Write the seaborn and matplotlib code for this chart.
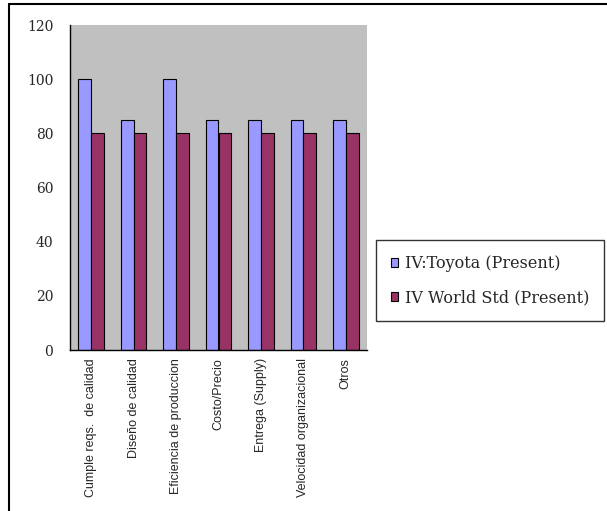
import matplotlib
matplotlib.use("Agg")
import matplotlib.pyplot as plt
from matplotlib.lines import Line2D
from matplotlib.patches import Patch
import numpy as np
import pandas as pd
import seaborn as sns

categories = [
    "Cumple reqs.  de calidad",
    "Diseño de calidad",
    "Eficiencia de produccion",
    "Costo/Precio",
    "Entrega (Supply)",
    "Velocidad organizacional",
    "Otros",
]
series_names = ["IV:Toyota (Present)", "IV World Std (Present)"]
toyota = [100, 85, 100, 85, 85, 85, 85]
world_std = [80, 80, 80, 80, 80, 80, 80]
y_ticks = [0, 20, 40, 60, 80, 100, 120]

colors = ["#9999FF", "#993366"]

df = pd.DataFrame({
    "categoria": categories * 2,
    "serie": [series_names[0]] * len(categories) + [series_names[1]] * len(categories),
    "valor": toyota + world_std,
})

sns.set_theme(style="white")
plt.rcParams["font.family"] = ["DejaVu Serif"]

W, H = 607, 511
fig = plt.figure(figsize=(W / 100, H / 100), dpi=100)
left, right, top, bottom = 70, 367, 25, 350
ax = fig.add_axes([left / W, 1 - bottom / H, (right - left) / W, (bottom - top) / H])

sns.barplot(data=df, x="categoria", y="valor", hue="serie", order=categories,
            hue_order=series_names, palette=colors, width=0.6, gap=0,
            edgecolor="black", linewidth=0.8, saturation=1, ax=ax, legend=False)

ax.set_facecolor("#C0C0C0")
ax.set_xlim(-0.5, len(categories) - 0.5)
ax.set_ylim(0, 120)
ax.set_xlabel("")
ax.set_ylabel("")

for side in ["top", "right"]:
    ax.spines[side].set_visible(False)
for side in ["left", "bottom"]:
    ax.spines[side].set_color("black")
    ax.spines[side].set_linewidth(1.0)

ax.set_yticks(y_ticks)
ax.set_yticklabels([str(v) for v in y_ticks], fontsize=10)
ax.tick_params(axis="y", direction="out", length=6, width=1, color="black", pad=6)

# category boundary ticks (major) and labels at the centers (minor)
ax.set_xticks(np.arange(-0.5, len(categories), 1.0))
ax.set_xticklabels([])
ax.tick_params(axis="x", which="major", direction="out", length=5, width=1, color="black")
ax.set_xticks(np.arange(len(categories)), minor=True)
ax.set_xticklabels(categories, minor=True, rotation=90, fontsize=9,
                   family=["Liberation Sans", "DejaVu Sans"], va="top", ha="center")
ax.tick_params(axis="x", which="minor", length=0, pad=6)

handles = [Patch(facecolor=c, edgecolor="black", linewidth=0.8) for c in colors]
leg = fig.legend(handles, series_names, loc="upper left",
                 bbox_to_anchor=(376 / W, 1 - 240 / H), frameon=True, fancybox=False,
                 fontsize=11.5, handlelength=0.45, handleheight=0.5, handletextpad=0.4,
                 labelspacing=1.05, borderpad=0.95, borderaxespad=0)
leg.get_frame().set_edgecolor("black")
leg.get_frame().set_linewidth(1.0)

# outer chart border
fig.add_artist(Line2D([9 / W, 1.0], [1 - 4 / H, 1 - 4 / H], color="black", lw=1.5,
                      transform=fig.transFigure))
fig.add_artist(Line2D([9 / W, 9 / W], [1 - 4 / H, 0.0], color="black", lw=1.5,
                      transform=fig.transFigure))

fig.savefig("out.png", dpi=100, facecolor="white")
